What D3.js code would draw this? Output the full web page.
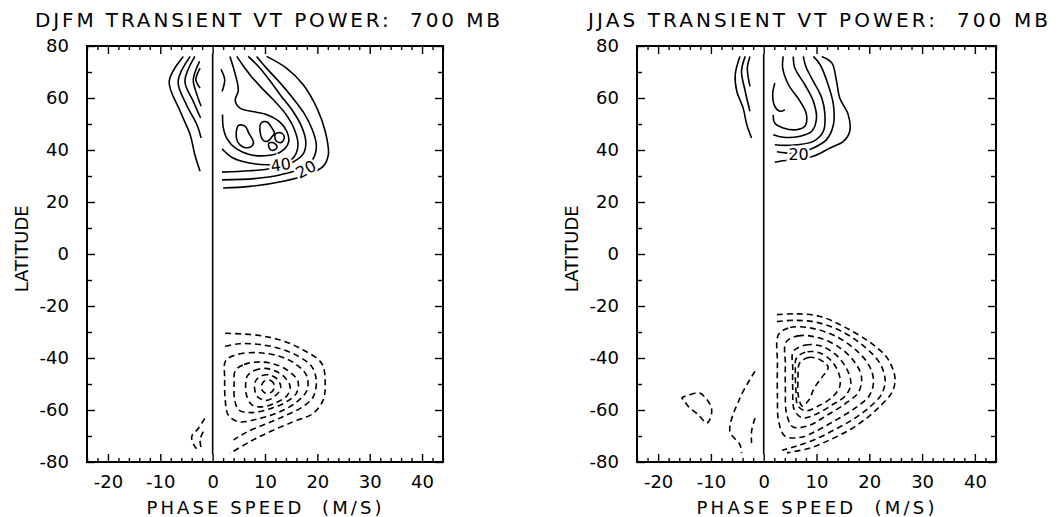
<!DOCTYPE html>
<html>
<head>
<meta charset="utf-8">
<script src="https://cdn.jsdelivr.net/npm/d3@7"></script>
<style>
  body { margin: 0; background: #fff; }
  text { font-family: "DejaVu Sans", sans-serif; fill: #000; }
</style>
</head>
<body>
<svg id="chart" width="1060" height="517"></svg>
<script>
// axis values
const xDomain = [-24, 44]
const yDomain = [-80, 80]
const xTickLabels = [-20, -10, 0, 10, 20, 30, 40]
const yTickLabels = [-80, -60, -40, -20, 0, 20, 40, 60, 80]
const zeroLineLat = [-77, 77]

// contour lines: [phase speed (m/s), latitude]
// DJFM, northern hemisphere, westward (solid, open)
const djfmWestSolid = [
    [[-5.6, 76], [-8.3, 66.4], [-6.2, 54.9], [-4.3, 45.9], [-3.4, 38.2], [-2.4, 31.8]],
    [[-4.3, 76], [-6.6, 66.4], [-5.0, 57.4], [-3.0, 49.7], [-2.2, 44.6]],
    [[-3.4, 76], [-5.3, 66.4], [-3.7, 58.7], [-2.3, 52.3]],
    [[-2.5, 74.1], [-3.7, 67.0], [-3.0, 61.3], [-2.2, 56.8]],
    [[-2.4, 71.5], [-3.2, 67], [-2.4, 63.8]]
]
// DJFM, northern hemisphere, eastward (solid, open)
const djfmEastSolid = [
    [[2.0, 25.4], [7.1, 26.0], [13.5, 28.0], [18.0, 30.5], [21.1, 33.7], [22.1, 38.2], [21.5, 47.2], [19.9, 56.2], [17.3, 65.1], [14.1, 71.5], [10.3, 76]],
    [[1.8, 28.5], [8, 29], [13, 30.5], [17, 33], [19.3, 37], [19.8, 42], [19, 48], [17.5, 54], [15.3, 60], [12.8, 66], [10.5, 71], [8.4, 76]],
    [[1.8, 31.5], [7, 32], [11.5, 33], [15, 35], [17.3, 38.5], [17.8, 43], [17, 49], [15.3, 55], [13, 61], [10.8, 67], [8.8, 72], [6.8, 76]],
    [[1.8, 40.5], [3.8, 37], [7, 35], [10.5, 34.3], [13.5, 34.6], [15.6, 37.5], [16.3, 42], [15.6, 48], [13.9, 54], [11.5, 59.5], [9.3, 64], [7.3, 68.5], [5.8, 72.5], [4.6, 76]],
    [[3.3, 76], [4.2, 70], [4.9, 63], [4.3, 59], [5.3, 56], [8, 54.7], [10.5, 53.5], [12.7, 51], [14.2, 47], [14.5, 43], [13, 39.3], [10, 37.8], [7, 38.3], [4.5, 40.5], [2.7, 44.5], [2.0, 49], [1.9, 53.6]],
    [[1.6, 71], [2.3, 67], [1.8, 62.5]]
]
// DJFM, closed solid loops (maxima)
const djfmEastLoops = [
    [[5.0, 49.5], [6.2, 49.2], [6.9, 46.5], [7.8, 43], [7.3, 41.2], [5.8, 41.2], [4.8, 43], [4.5, 46.5]],
    [[9.3, 50.5], [10.4, 50.8], [11.3, 48.5], [11.8, 46.5], [11.3, 45], [10.6, 43.5], [9.8, 43.5], [9.1, 46.5]],
    [[12.0, 46.2], [13.0, 46.6], [13.7, 45], [13.2, 43], [12.3, 43.2], [11.9, 44.5]],
    [[10.7, 42.5], [11.6, 42.8], [12.3, 41.3], [11.8, 40], [11, 40.2]]
]
// DJFM, southern hemisphere (dashed)
const djfmSouthDashed = [
    [[2.4, -30.5], [8.4, -31.2], [12.9, -33.1], [16.7, -36.3], [20.8, -42], [21.5, -49.7], [21.1, -56.2], [19.2, -61.3], [15.4, -64.5], [11.0, -68.3], [7.1, -72.2], [3.3, -76.7]],
    [[2.4, -35.5], [5, -34.5], [9, -34.8], [13, -36.5], [16.5, -39.5], [19, -43.5], [19.8, -49], [19.2, -55], [17, -59], [13.5, -62.5], [10, -65.5], [6.5, -68.5], [4, -71.5]],
    [[-1.5, -63.2], [-2.7, -67], [-4.0, -70.3], [-3.4, -74.1], [-2.7, -75.4]],
    [[-1.8, -68.3], [-2.4, -71.5], [-2.1, -75.4]]
]
const djfmSouthLoops = [
    [[2.5, -41], [5, -38.5], [9, -38], [13, -39.5], [16, -42.5], [18, -47], [18, -52.5], [16, -57], [12.5, -61], [8.5, -63.5], [5, -64.5], [3, -62], [2.4, -56], [2.3, -48]],
    [[4.3, -45], [6, -42.5], [9, -41.5], [12, -42.5], [14.5, -45], [16.3, -49], [16, -53.5], [14, -57], [11, -59.5], [7.5, -61], [5, -60], [4.2, -56], [4.1, -50]],
    [[6.6, -47], [8, -44.8], [10, -44], [12, -45], [13.8, -47.5], [14.8, -51], [14.2, -54.5], [12, -57.3], [9.5, -58.8], [7.5, -58], [6.5, -54.5], [6.3, -50.5]],
    [[8.3, -48.5], [9.5, -46.7], [11, -46.6], [12.5, -48.5], [13, -51.5], [12, -54.5], [10.3, -56.3], [8.6, -55], [8, -51.5]],
    [[9.8, -49], [11, -48.6], [11.8, -50.5], [11.3, -53], [10, -53.5], [9.3, -51.5]]
]
const djfmLabels = [
    { text: '40', c: 13.0, lat: 34.4, angle: -8 },
    { text: '20', c: 17.8, lat: 32.6, angle: -28 }
]

// JJAS, northern hemisphere
const jjasWestSolid = [
    [[-4.5, 76], [-5.4, 69], [-5.1, 62.6], [-3.9, 56.2], [-3.2, 49.7], [-2.3, 44.6]],
    [[-3.5, 76], [-4.2, 70.3], [-3.5, 62.6], [-2.6, 54.9]],
    [[-2.6, 76], [-3.1, 71.5], [-2.6, 64.5]]
]
const jjasEastSolid = [
    [[2.1, 65.8], [1.7, 61.3], [2.1, 56.8], [3.1, 54.9], [4.0, 55.5]],
    [[3.7, 76], [3.6, 71.5], [4.7, 65.1], [6.9, 58.7], [8.1, 53.6], [7.8, 49.1], [6.2, 47.8], [3.7, 48.5], [2.1, 50.4], [1.8, 53.6]],
    [[5.6, 76], [5.9, 71.5], [7.8, 65.1], [9.4, 58.7], [10.0, 52.3], [9.1, 47.2], [6.9, 45.3], [3.7, 44.9], [1.8, 45.9]],
    [[7.5, 76], [8.0, 72], [9.4, 66.4], [11.0, 60], [11.6, 53.6], [11.3, 47.2], [9.4, 43.3], [6.2, 42], [3.1, 41.8], [2.1, 42]],
    [[9.4, 76], [10.7, 72.8], [12.2, 65.1], [13.2, 57.4], [13.2, 49.7], [11.9, 44], [9.4, 40.8], [6.2, 38.8], [2.5, 39.3]],
    [[11.0, 76], [12.9, 73.5], [13.8, 66.4], [14.4, 60], [16.0, 53.6], [16.3, 47.2], [15.1, 43.3], [12.6, 40.8], [9.4, 37.6], [6.2, 36.3], [3.1, 35.7], [2.1, 35.3]]
]
const jjasEastLoops = []
// JJAS, southern hemisphere (dashed)
const jjasSouthDashed = [
    [[2.5, -23.3], [6.2, -23], [10.7, -24], [15.7, -28.5], [20.75, -34.9], [23.6, -40.6], [24.9, -48.3], [24.2, -53.5], [22.0, -58.6], [19.5, -63.1], [16.3, -67.6], [12.6, -71.4], [8.8, -74.6], [4.4, -76.5]],
    [[2.5, -26], [6, -25.5], [10.5, -26.5], [15, -30], [19, -35.5], [22, -42], [23, -48.5], [22.3, -54], [20, -59], [17, -63.5], [13.5, -67.5], [9.5, -71.5], [6, -74], [3.5, -75.5]],
    [[-1.65, -45.1], [-4.5, -55.4], [-6.4, -68.2], [-4.5, -73.3], [-4.2, -76.5]],
    [[-1.65, -63.1], [-2.3, -68.2], [-2.3, -72.7]]
]
const jjasSouthLoops = [
    [[2.8, -31], [5, -28.3], [9, -28.5], [13.5, -31.5], [17.5, -37], [20, -43], [20.8, -49], [20, -54.5], [17.5, -59], [14, -63.5], [10.5, -67.5], [7, -70.5], [4, -70], [2.8, -64], [2.6, -55], [2.6, -42]],
    [[4.2, -34], [6.5, -31.5], [10, -32], [14, -35.5], [17, -41], [18.5, -47], [18, -53], [15.5, -57.5], [12, -62], [8.5, -66], [5.5, -66.5], [4.3, -61], [4.1, -52], [4.1, -42]],
    [[5.6, -37.5], [8, -35], [11, -35.5], [13.8, -39], [15.8, -44.5], [16.5, -50], [15.5, -54.5], [13, -58], [10, -61.5], [7.3, -63], [5.8, -60], [5.5, -52], [5.5, -44]],
    [[6.2, -40], [8.3, -37.6], [10.8, -38.2], [13, -41.5], [14.3, -46.5], [14.4, -51], [13, -55], [10.5, -58.3], [8, -60.3], [6.5, -58.5], [6.1, -52], [6.0, -45]],
    [[6.8, -42], [8.5, -39.8], [10.5, -40.5], [12.2, -43.5], [11, -47.5], [9.6, -51.5], [8.6, -56], [7.3, -58.5], [6.6, -55], [6.5, -48]],
    [[-15.5, -55.4], [-14, -54.1], [-12.1, -53.5], [-9.9, -59.2], [-10.2, -63.7], [-10.8, -65], [-12.4, -61.8], [-14.3, -58.6], [-15.2, -56]]
]
const jjasLabels = [
    { text: '20', c: 6.6, lat: 38.3, angle: 0 }
]

const panels = [
    {
        title: 'DJFM TRANSIENT VT POWER:  700 MB', titleX: 35, titleLen: 465,
        left: 87, right: 443, yLabelX: 28, xTitleLen: 235,
        solid: djfmWestSolid.concat(djfmEastSolid), solidLoops: djfmEastLoops,
        dashed: djfmSouthDashed, dashedLoops: djfmSouthLoops, labels: djfmLabels
    },
    {
        title: 'JJAS TRANSIENT VT POWER:  700 MB', titleX: 588, titleLen: 460,
        left: 637, right: 996, yLabelX: 578, xTitleLen: 238,
        solid: jjasWestSolid.concat(jjasEastSolid), solidLoops: jjasEastLoops,
        dashed: jjasSouthDashed, dashedLoops: jjasSouthLoops, labels: jjasLabels
    }
]

const plotTop = 46
const plotBottom = 462
const svg = d3.select('#chart')

function drawPanel(p) {
    const x = d3.scaleLinear().domain(xDomain).range([p.left, p.right])
    const y = d3.scaleLinear().domain(yDomain).range([plotBottom, plotTop])
    const g = svg.append('g')

    const line = d3.line().x(d => x(d[0])).y(d => y(d[1])).curve(d3.curveCatmullRom.alpha(0.5))
    const loop = d3.line().x(d => x(d[0])).y(d => y(d[1])).curve(d3.curveCatmullRomClosed.alpha(0.5))

    // zero phase speed line
    g.append('line')
        .attr('x1', x(0)).attr('x2', x(0))
        .attr('y1', y(zeroLineLat[1])).attr('y2', y(zeroLineLat[0]))
        .attr('stroke', '#000').attr('stroke-width', 1.6)

    const contours = g.append('g').attr('fill', 'none').attr('stroke', '#000').attr('stroke-width', 1.6)
    contours.selectAll('.solid').data(p.solid).join('path').attr('class', 'solid').attr('d', line)
    contours.selectAll('.solidLoop').data(p.solidLoops).join('path').attr('class', 'solidLoop').attr('d', loop)
    contours.selectAll('.dashed').data(p.dashed).join('path').attr('class', 'dashed')
        .attr('d', line).attr('stroke-dasharray', '6,4')
    contours.selectAll('.dashedLoop').data(p.dashedLoops).join('path').attr('class', 'dashedLoop')
        .attr('d', loop).attr('stroke-dasharray', '6,4')

    // contour labels
    g.selectAll('.clabel').data(p.labels).join('text')
        .attr('class', 'clabel')
        .attr('transform', d => `translate(${x(d.c)},${y(d.lat)}) rotate(${d.angle})`)
        .attr('text-anchor', 'middle').attr('dy', '0.36em')
        .attr('font-size', 16)
        .attr('stroke', '#fff').attr('stroke-width', 5).attr('paint-order', 'stroke')
        .text(d => d.text)

    // ticks
    const xMinor = d3.range(xDomain[0], xDomain[1] + 1, 2).filter(v => v % 10 !== 0)
    const xMajor = d3.range(xDomain[0], xDomain[1] + 1, 2).filter(v => v % 10 === 0)
    const yMinor = d3.range(-70, 80, 20)
    const label = d => String(d)
    const styleAxis = a => {
        a.select('.domain').remove()
        a.selectAll('line').attr('stroke-width', 1.4)
        a.attr('font-size', 18).attr('font-family', '"DejaVu Sans", sans-serif')
    }
    g.append('g').attr('transform', `translate(0,${plotBottom})`)
        .call(d3.axisBottom(x).tickValues(xTickLabels).tickFormat(label).tickSize(-8).tickPadding(13)).call(styleAxis)
    g.append('g').attr('transform', `translate(0,${plotBottom})`)
        .call(d3.axisBottom(x).tickValues(xMinor).tickSize(-4).tickFormat('')).call(styleAxis)
    g.append('g').attr('transform', `translate(0,${plotTop})`)
        .call(d3.axisTop(x).tickValues(xMajor).tickSize(-8).tickFormat('')).call(styleAxis)
    g.append('g').attr('transform', `translate(0,${plotTop})`)
        .call(d3.axisTop(x).tickValues(xMinor).tickSize(-4).tickFormat('')).call(styleAxis)
    g.append('g').attr('transform', `translate(${p.left},0)`)
        .call(d3.axisLeft(y).tickValues(yTickLabels).tickFormat(label).tickSize(-8).tickPadding(18)).call(styleAxis)
    g.append('g').attr('transform', `translate(${p.left},0)`)
        .call(d3.axisLeft(y).tickValues(yMinor).tickSize(-5).tickFormat('')).call(styleAxis)
    g.append('g').attr('transform', `translate(${p.right},0)`)
        .call(d3.axisRight(y).tickValues(yTickLabels).tickSize(-8).tickFormat('')).call(styleAxis)
    g.append('g').attr('transform', `translate(${p.right},0)`)
        .call(d3.axisRight(y).tickValues(yMinor).tickSize(-5).tickFormat('')).call(styleAxis)

    // frame
    g.append('rect')
        .attr('x', p.left).attr('y', plotTop)
        .attr('width', p.right - p.left).attr('height', plotBottom - plotTop)
        .attr('fill', 'none').attr('stroke', '#000').attr('stroke-width', 2)

    // titles
    g.append('text')
        .attr('x', p.titleX).attr('y', 27)
        .attr('font-size', 20)
        .attr('textLength', p.titleLen).attr('lengthAdjust', 'spacing')
        .style('white-space', 'pre')
        .text(p.title)
    g.append('text')
        .attr('x', (p.left + p.right) / 2 - 1).attr('y', 514)
        .attr('text-anchor', 'middle')
        .attr('font-size', 18)
        .attr('textLength', p.xTitleLen).attr('lengthAdjust', 'spacing')
        .style('white-space', 'pre')
        .text('PHASE SPEED  (M/S)')
    g.append('text')
        .attr('transform', `translate(${p.yLabelX},${y(2)}) rotate(-90)`)
        .attr('text-anchor', 'middle')
        .attr('font-size', 18)
        .text('LATITUDE')
}

panels.forEach(drawPanel)
</script>
</body>
</html>
